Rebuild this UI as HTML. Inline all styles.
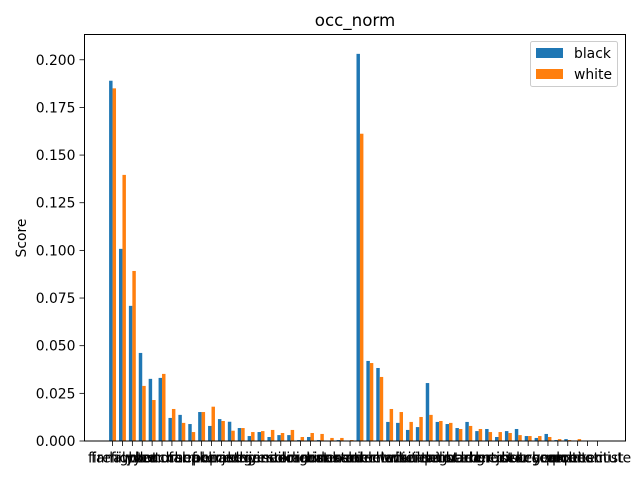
<!DOCTYPE html>
<html><head><meta charset="utf-8"><style>
html,body{margin:0;padding:0;background:#fff;}
svg{display:block;font-family:"DejaVu Sans","Liberation Sans",sans-serif;}
</style></head><body>
<svg id="chart" width="640" height="480" viewBox="0 0 640 480" xmlns="http://www.w3.org/2000/svg">
<rect width="640" height="480" fill="#fff"/>
<text x="355" y="26" font-size="16.7" text-anchor="middle">occ_norm</text>
<text transform="translate(26,238) rotate(-90)" font-size="13.9" text-anchor="middle">Score</text>
<g id="bars"></g>
<g id="yticks"></g>
<g id="xticks"></g>
<rect x="84.5" y="34.5" width="541" height="406.5" fill="none" stroke="#000" stroke-width="1"/>
<g>
<rect x="530.5" y="41.5" width="87" height="45" rx="2" fill="#fff" fill-opacity="0.8" stroke="#ccc"/>
<rect x="536" y="48" width="27" height="10" fill="#1f77b4"/>
<text x="574" y="58" font-size="13.9">black</text>
<rect x="536" y="69" width="27" height="10" fill="#ff7f0e"/>
<text x="574" y="79" font-size="13.9">white</text>
</g>
</svg>
<script>
const categories = ["family","firefighter","lawyer","pilot","doctor","teacher","nurse","chef","farmer","baker","police","plumber","pastor","judge","driver","engineer","janitor","sailor","soldier","singer","artist","miner","banker","dancer","cashier","student","athlete","mechanic","clerk","writer","waiter","builder","scientist","tailor","painter","guard","barber","cleaner","dentist","grocer","editor","jockey","butcher","surgeon","cook","carpenter","poet","architect","economist","prostitute"];
const blackVals = [0.189,0.1008,0.0709,0.0462,0.0326,0.0331,0.0121,0.0137,0.0089,0.0152,0.0079,0.0115,0.0101,0.0068,0.0026,0.0047,0.0021,0.0031,0.0031,0.0005,0.0021,0.0005,0.0,0.0005,0.0,0.2031,0.0420,0.0383,0.0100,0.0095,0.0058,0.0073,0.0304,0.0100,0.0089,0.0068,0.0100,0.0052,0.0063,0.0021,0.0052,0.0063,0.0026,0.0016,0.0037,0.0005,0.0010,0.0,0.0,0.0];
const whiteVals = [0.185,0.1396,0.0892,0.0289,0.0215,0.0352,0.0168,0.0095,0.0047,0.0152,0.0180,0.0105,0.0054,0.0068,0.0047,0.0052,0.0058,0.0042,0.0058,0.0021,0.0042,0.0037,0.0016,0.0016,0.0005,0.1612,0.0409,0.0336,0.0168,0.0152,0.0100,0.0126,0.0137,0.0105,0.0095,0.0063,0.0079,0.0063,0.0047,0.0047,0.0042,0.0031,0.0026,0.0026,0.0021,0.0010,0.0005,0.0010,0.0,0.0];
const yTickVals = [0,0.025,0.05,0.075,0.1,0.125,0.15,0.175,0.2];
const yTickLabels = ["0.000","0.025","0.050","0.075","0.100","0.125","0.150","0.175","0.200"];

const NS="http://www.w3.org/2000/svg";
const L=84.5,R=625.5,T=34.5,B=441;
const W=0.35;
const n=categories.length;
const xmin=-W-0.05*(n-1+2*W), xmax=(n-1)+W+0.05*(n-1+2*W);
const allMax=Math.max(...blackVals,...whiteVals);
const ymax=allMax*1.05;
function xs(v){return L+(v-xmin)/(xmax-xmin)*(R-L);}
function ys(v){return B-v/ymax*(B-T);}
function mk(tag,attrs,parent){const e=document.createElementNS(NS,tag);for(const k in attrs)e.setAttribute(k,attrs[k]);parent.appendChild(e);return e;}
const gb=document.getElementById('bars'),gy=document.getElementById('yticks'),gx=document.getElementById('xticks');
for(let i=0;i<n;i++){
  const b=mk('rect',{x:xs(i-W),y:ys(blackVals[i]),width:xs(i)-xs(i-W),height:B-ys(blackVals[i]),fill:'#1f77b4'},gb);
  
  
  const w=mk('rect',{x:xs(i),y:ys(whiteVals[i]),width:xs(i+W)-xs(i),height:B-ys(whiteVals[i]),fill:'#ff7f0e'},gb);
  
  
  const tk=mk('line',{x1:xs(i),x2:xs(i),y1:B,y2:B+5,stroke:'#000','stroke-width':0.8},gx);
  
  
  const t=mk('text',{x:xs(i),y:B+21.5,'font-size':13.9,'text-anchor':'middle'},gx);
  t.textContent=categories[i];
  
  
}
for(let j=0;j<yTickVals.length;j++){
  const y=ys(yTickVals[j]);
  const tk=mk('line',{x1:L-5,x2:L,y1:y,y2:y,stroke:'#000','stroke-width':0.8},gy);
  
  
  const t=mk('text',{x:L-9,y:y+5,'font-size':13.9,'text-anchor':'end'},gy);
  t.textContent=yTickLabels[j];
  
  
}
</script>
</body></html>
